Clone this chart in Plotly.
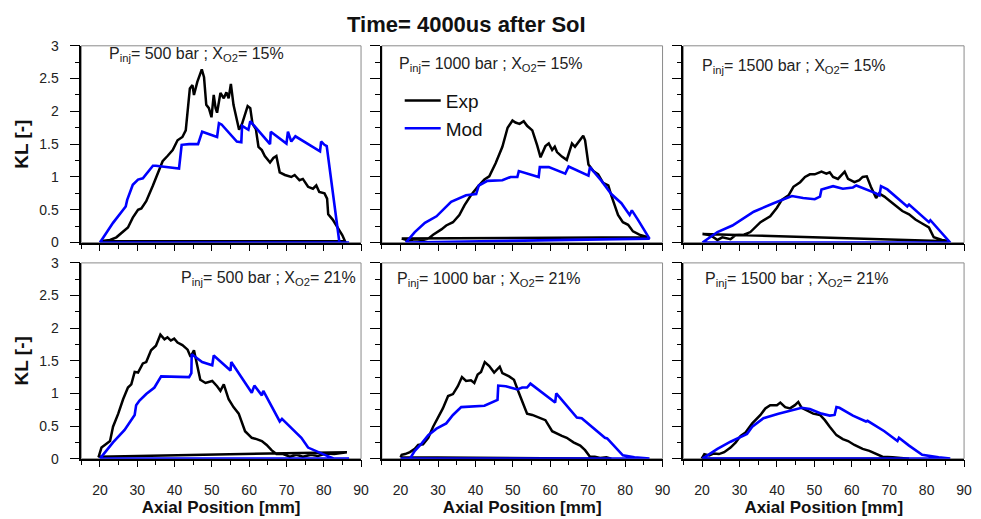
import plotly.graph_objects as go

# ---------------- data ----------------
# Panel A: Pinj=500 bar, XO2=15%
a_exp_x = [20, 22.7, 24.4, 26.2, 27.5, 28.8, 30.2, 31.1, 32.4, 34.2, 35.5, 36.8, 38.1, 39.5, 40.8, 42.1, 43.0, 43.5, 44.1, 44.8, 45.2, 46.1, 47.3, 47.9, 48.5, 49.2, 49.9, 50.5, 51.0, 51.4, 52.3, 53.2, 53.9, 54.5, 55.1, 55.8, 56.7, 57.3, 58.1, 58.9, 59.6, 60.3, 60.9, 61.8, 62.5, 63.4, 64.2, 65.6, 66.5, 67.3, 68.2, 69.6, 71.3, 72.2, 73.5, 74.4, 75.8, 77.1, 78.0, 78.8, 80.2, 80.9, 81.2, 82.4, 83.7, 85.0, 85.7, 20]
a_exp_y = [0.02, 0.04, 0.08, 0.16, 0.23, 0.38, 0.50, 0.52, 0.63, 0.87, 1.07, 1.24, 1.32, 1.41, 1.56, 1.61, 1.71, 2.0, 2.35, 2.40, 2.25, 2.45, 2.64, 2.52, 2.10, 2.05, 1.91, 2.25, 2.05, 1.98, 2.28, 2.20, 2.29, 2.20, 2.42, 2.10, 1.86, 1.72, 1.81, 1.96, 2.08, 2.05, 1.81, 1.73, 1.46, 1.41, 1.32, 1.22, 1.29, 1.32, 1.07, 1.03, 1.0, 1.03, 0.95, 0.97, 0.85, 0.82, 0.87, 0.77, 0.75, 0.67, 0.43, 0.35, 0.23, 0.11, 0.02, 0.02]
a_mod_x = [20, 23.5, 26.9, 27.3, 28.8, 30.2, 31.5, 34.2, 35.0, 41.2, 41.9, 43.9, 46.3, 47.4, 51.4, 51.9, 52.6, 56.7, 57.9, 58.1, 59.8, 60.3, 65.6, 65.8, 70.0, 70.4, 71.3, 72.4, 79.0, 79.3, 80.2, 80.8, 84.2, 86.8, 20]
a_mod_y = [0, 0.30, 0.55, 0.65, 0.88, 0.96, 0.98, 1.17, 1.17, 1.13, 1.49, 1.50, 1.50, 1.69, 1.61, 1.82, 1.80, 1.54, 1.53, 1.78, 1.72, 1.85, 1.50, 1.69, 1.51, 1.69, 1.54, 1.62, 1.39, 1.54, 1.49, 1.47, 0.0, 0, 0]

# Panel B: Pinj=1000 bar, XO2=15%
b_exp_x = [20.3, 21.2, 22.1, 23.8, 26.0, 27.4, 28.7, 30.9, 32.2, 34.0, 35.7, 37.1, 38.8, 40.6, 42.4, 43.7, 45.4, 47.2, 48.6, 49.9, 50.7, 51.8, 52.9, 53.8, 55.2, 56.5, 57.4, 58.7, 59.6, 60.5, 61.2, 61.8, 63.1, 64.4, 65.8, 66.6, 68.0, 68.8, 69.3, 70.2, 71.5, 72.8, 74.1, 75.5, 76.3, 77.2, 78.1, 79.4, 80.8, 82.1, 83.8, 86.1, 20.3]
b_exp_y = [0.06, 0.05, 0.03, 0.05, 0.04, 0.06, 0.12, 0.20, 0.26, 0.31, 0.42, 0.57, 0.72, 0.85, 0.96, 1.01, 1.21, 1.46, 1.75, 1.86, 1.83, 1.81, 1.85, 1.78, 1.71, 1.48, 1.30, 1.47, 1.51, 1.41, 1.46, 1.38, 1.31, 1.26, 1.51, 1.46, 1.58, 1.63, 1.56, 1.19, 1.09, 1.04, 0.91, 0.87, 0.72, 0.56, 0.42, 0.31, 0.27, 0.17, 0.12, 0.08, 0.06]
b_mod_x = [21.4, 23.8, 26.5, 29.6, 33.5, 37.5, 40.2, 40.9, 43.2, 47.2, 49.4, 51.2, 51.6, 56.9, 57.2, 59.6, 64.0, 64.9, 70.2, 70.6, 71.9, 73.7, 76.3, 79.0, 81.2, 81.8, 83.4, 86.5, 21.4]
b_mod_y = [0, 0.16, 0.30, 0.40, 0.62, 0.72, 0.74, 0.87, 0.94, 0.95, 1.00, 1.00, 1.09, 1.00, 1.15, 1.15, 1.05, 1.16, 1.02, 1.15, 1.06, 0.94, 0.74, 0.60, 0.42, 0.49, 0.35, 0.06, 0]

# Panel C: Pinj=1500 bar, XO2=15%
c_exp_x = [20.1, 21.4, 22.8, 24.1, 25.4, 27.6, 28.9, 31.2, 32.9, 35.6, 38.2, 40.0, 41.3, 43.1, 44.4, 46.2, 47.5, 48.8, 50.1, 51.9, 53.2, 54.1, 55.0, 56.3, 58.1, 59.0, 60.7, 62.0, 62.9, 64.0, 65.1, 66.5, 67.3, 68.7, 70.0, 71.8, 73.5, 75.3, 77.0, 78.8, 80.6, 81.9, 84.1, 85.9, 20.1]
c_exp_y = [0.13, 0.12, 0.09, 0.04, 0.08, 0.05, 0.11, 0.12, 0.16, 0.31, 0.40, 0.53, 0.65, 0.72, 0.85, 0.92, 1.00, 1.04, 1.04, 1.08, 1.05, 1.07, 1.00, 0.97, 1.08, 0.97, 0.92, 0.95, 1.00, 1.01, 0.85, 0.68, 0.75, 0.70, 0.64, 0.55, 0.48, 0.43, 0.35, 0.29, 0.23, 0.08, 0.04, 0.02, 0.13]
c_mod_x = [20.1, 24.1, 28.1, 33.8, 39.1, 44.0, 47.0, 50.1, 51.5, 51.9, 55.0, 57.6, 60.3, 61.2, 66.5, 67.4, 67.8, 69.5, 74.8, 75.3, 80.6, 81.0, 86.3, 20.1]
c_mod_y = [0, 0.16, 0.26, 0.47, 0.60, 0.71, 0.68, 0.66, 0.70, 0.81, 0.86, 0.82, 0.84, 0.87, 0.75, 0.72, 0.86, 0.81, 0.55, 0.58, 0.31, 0.34, 0, 0]

# Panel D: Pinj=500 bar, XO2=21%
d_exp_x = [19.6, 20.4, 21.3, 21.9, 22.7, 23.5, 24.9, 26.2, 27.5, 28.4, 29.3, 30.2, 31.5, 32.4, 33.7, 35.0, 36.2, 37.3, 38.1, 39.0, 39.9, 40.8, 42.1, 43.5, 44.3, 45.2, 46.1, 46.9, 48.3, 50.1, 51.4, 52.3, 53.2, 54.5, 55.8, 57.2, 58.9, 60.7, 62.0, 63.4, 64.7, 66.0, 67.3, 69.1, 70.9, 72.7, 74.4, 76.6, 78.4, 80.6, 82.8, 84.6, 86.2, 19.6]
d_exp_y = [0.02, 0.17, 0.21, 0.23, 0.27, 0.49, 0.69, 0.91, 1.09, 1.14, 1.33, 1.32, 1.46, 1.48, 1.66, 1.73, 1.90, 1.83, 1.86, 1.81, 1.84, 1.78, 1.74, 1.67, 1.56, 1.66, 1.41, 1.21, 1.16, 1.19, 1.11, 1.04, 1.14, 0.91, 0.79, 0.69, 0.42, 0.32, 0.30, 0.27, 0.21, 0.13, 0.07, 0.07, 0.03, 0.06, 0.03, 0.06, 0.04, 0.08, 0.07, 0.08, 0.10, 0.03]
d_mod_x = [20, 23.5, 26.6, 28.8, 29.3, 29.7, 30.6, 32.4, 34.6, 36.4, 43.9, 44.5, 44.6, 47.4, 50.1, 50.5, 55.0, 55.2, 56.7, 60.7, 61.4, 63.4, 63.8, 68.2, 68.8, 73.5, 74.0, 75.8, 78.4, 80.6, 82.8, 86.8, 20]
d_mod_y = [0, 0.25, 0.44, 0.62, 0.67, 0.82, 0.89, 0.99, 1.09, 1.26, 1.25, 1.31, 1.60, 1.48, 1.43, 1.58, 1.35, 1.48, 1.35, 1.01, 1.12, 0.97, 1.04, 0.57, 0.61, 0.35, 0.32, 0.17, 0.10, 0.05, 0, 0, 0]

# Panel E: Pinj=1000 bar, XO2=21%
e_exp_x = [20.0, 20.3, 21.2, 22.5, 23.8, 24.7, 26.0, 27.4, 28.7, 30.0, 31.3, 32.7, 34.0, 35.3, 36.4, 37.5, 38.8, 39.7, 40.6, 41.5, 42.5, 43.7, 45.0, 46.5, 47.2, 49.0, 50.3, 51.6, 53.0, 53.8, 55.2, 56.9, 58.7, 60.5, 61.8, 63.1, 64.4, 66.2, 68.0, 69.3, 70.6, 71.9, 73.3, 75.0, 76.3, 20.0]
e_exp_y = [0.02, 0.06, 0.07, 0.10, 0.15, 0.21, 0.22, 0.32, 0.49, 0.62, 0.77, 0.96, 0.99, 1.11, 1.25, 1.19, 1.20, 1.16, 1.29, 1.33, 1.48, 1.42, 1.32, 1.41, 1.31, 1.26, 1.21, 1.01, 0.82, 0.69, 0.67, 0.63, 0.59, 0.42, 0.38, 0.35, 0.32, 0.25, 0.20, 0.13, 0.03, 0.03, 0.01, 0.02, 0, 0.02]
e_mod_x = [20, 22.5, 23.8, 25.6, 27.4, 29.6, 32.2, 34.0, 36.2, 42.4, 45.9, 46.1, 48.1, 51.2, 52.5, 53.8, 54.7, 61.3, 61.6, 67.1, 68.4, 74.6, 75.2, 79.4, 82.5, 86.5, 20]
e_mod_y = [0, 0, 0.12, 0.23, 0.36, 0.46, 0.54, 0.67, 0.79, 0.81, 0.90, 1.12, 1.11, 1.06, 1.09, 1.09, 1.15, 0.86, 1.00, 0.63, 0.62, 0.32, 0.31, 0.05, 0.02, 0, 0]

# Panel F: Pinj=1500 bar, XO2=21%
f_exp_x = [19.9, 20.6, 21.9, 23.2, 24.5, 25.9, 27.6, 29.0, 30.3, 31.6, 33.4, 35.6, 36.9, 38.2, 40.0, 40.9, 42.2, 43.5, 44.8, 45.7, 46.6, 47.9, 49.7, 51.5, 52.8, 54.1, 55.9, 57.6, 59.0, 60.7, 62.9, 64.7, 66.5, 68.2, 70.9, 72.6, 75.3, 19.9]
f_exp_y = [0, 0.07, 0.05, 0.08, 0.07, 0.10, 0.17, 0.25, 0.35, 0.40, 0.54, 0.67, 0.77, 0.82, 0.82, 0.86, 0.79, 0.77, 0.82, 0.87, 0.78, 0.74, 0.69, 0.67, 0.59, 0.49, 0.36, 0.30, 0.27, 0.21, 0.15, 0.12, 0.07, 0.03, 0.02, 0.01, 0, 0]
f_mod_x = [20.1, 24.1, 27.6, 32.0, 33.4, 36.4, 40.4, 43.9, 46.6, 48.8, 51.9, 54.1, 55.4, 55.9, 56.7, 60.3, 63.8, 64.2, 68.7, 72.2, 72.6, 75.3, 78.8, 83.2, 86.3, 20.1]
f_mod_y = [0, 0.15, 0.26, 0.38, 0.49, 0.62, 0.69, 0.74, 0.78, 0.76, 0.69, 0.66, 0.67, 0.79, 0.78, 0.66, 0.57, 0.58, 0.42, 0.27, 0.32, 0.20, 0.06, 0.02, 0, 0]

panel_labels = [
    "P<sub>inj</sub>= 500 bar ; X<sub>O2</sub>= 15%",
    "P<sub>inj</sub>= 1000 bar ; X<sub>O2</sub>= 15%",
    "P<sub>inj</sub>= 1500 bar ; X<sub>O2</sub>= 15%",
    "P<sub>inj</sub>= 500 bar ; X<sub>O2</sub>= 21%",
    "P<sub>inj</sub>= 1000 bar ; X<sub>O2</sub>= 21%",
    "P<sub>inj</sub>= 1500 bar ; X<sub>O2</sub>= 21%",
]
series_names = ["Exp", "Mod"]
title_text = "Time= 4000us after SoI"
x_title = "Axial Position [mm]"
y_title = "KL [-]"
x_tickvals = [20, 30, 40, 50, 60, 70, 80, 90]
y_tickvals = [0, 0.5, 1, 1.5, 2, 2.5, 3]

# ---------------- layout ----------------
W, H = 981, 519
FONT = "Liberation Sans, Arial, sans-serif"
x_dom_px = [(82, 364), (385, 668), (689, 972)]
y_dom_px = [(39, 242), (263, 465)]

panels = [
    (a_exp_x, a_exp_y, a_mod_x, a_mod_y),
    (b_exp_x, b_exp_y, b_mod_x, b_mod_y),
    (c_exp_x, c_exp_y, c_mod_x, c_mod_y),
    (d_exp_x, d_exp_y, d_mod_x, d_mod_y),
    (e_exp_x, e_exp_y, e_mod_x, e_mod_y),
    (f_exp_x, f_exp_y, f_mod_x, f_mod_y),
]
# annotation anchor (px) and alignment
label_pos = [(108, 48, "left"), (400, 58, "left"), (706, 60, "left"),
             (361, 279, "right"), (398, 280, "left"), (709, 280, "left")]

fig = go.Figure()
layout = dict(
    width=W, height=H, margin=dict(l=0, r=0, t=0, b=0),
    paper_bgcolor="white", plot_bgcolor="white",
    font=dict(family=FONT, color="#222", size=12),
    showlegend=True,
    legend=dict(x=403 / W, y=1 - 76 / H, xanchor="left", yanchor="top",
                font=dict(size=19, color="#111", family=FONT),
                bgcolor="rgba(0,0,0,0)", tracegroupgap=0, itemwidth=36),
    annotations=[], shapes=[],
)

for i, (ex, ey, mx, my) in enumerate(panels):
    r, c = divmod(i, 3)
    k = i + 1
    xa = "x" if k == 1 else f"x{k}"
    ya = "y" if k == 1 else f"y{k}"
    fig.add_trace(go.Scatter(x=ex, y=ey, mode="lines", name=series_names[0],
                             line=dict(color="black", width=2.5),
                             xaxis=xa, yaxis=ya, showlegend=(k == 2),
                             legendrank=1))
    fig.add_trace(go.Scatter(x=mx, y=my, mode="lines", name=series_names[1],
                             line=dict(color="#0000FF", width=2.6),
                             xaxis=xa, yaxis=ya, showlegend=(k == 2),
                             legendrank=2))
    x0, x1 = x_dom_px[c]
    y0, y1 = y_dom_px[r]
    xkey = "xaxis" if k == 1 else f"xaxis{k}"
    ykey = "yaxis" if k == 1 else f"yaxis{k}"
    layout[xkey] = dict(
        domain=[x0 / W, x1 / W], anchor=ya, range=[15, 90],
        tickmode="array", tickvals=x_tickvals,
        showticklabels=(r == 1), ticks="outside", ticklen=7, tickwidth=1.2,
        tickcolor="black", showline=True, linecolor="black", linewidth=1.6,
        showgrid=False, zeroline=False, ticklabelstandoff=11,
        tickfont=dict(size=14, color="#222"),
        minor=dict(tickvals=[15, 25, 35, 45, 55, 65, 75, 85], ticks="outside",
                   ticklen=5, tickwidth=1.2, tickcolor="black", showgrid=False),
        title=dict(text=f"<b>{x_title}</b>" if r == 1 else "",
                   font=dict(size=17, color="#111"), standoff=3),
    )
    layout[ykey] = dict(
        domain=[1 - y1 / H, 1 - y0 / H], anchor=xa, range=[0, 3],
        tickmode="array", tickvals=y_tickvals,
        showticklabels=(c == 0), ticks="outside", ticklen=10, tickwidth=1.2,
        tickcolor="black", showline=True, linecolor="black", linewidth=1.6,
        showgrid=False, zeroline=False, ticklabelstandoff=8,
        tickfont=dict(size=14, color="#222"),
        minor=dict(tickvals=[0.25, 0.75, 1.25, 1.75, 2.25, 2.75], ticks="outside",
                   ticklen=5, tickwidth=1.2, tickcolor="black", showgrid=False),
        title=dict(text=f"<b>{y_title}</b>" if c == 0 else "",
                   font=dict(size=19, color="#111"), standoff=6),
    )
    # gray frame (top/right border)
    layout["shapes"].append(dict(type="rect", xref=f"{xa} domain", yref=f"{ya} domain",
                                 x0=0, x1=1, y0=0, y1=1, layer="below",
                                 line=dict(color="#8a8a8a", width=1)))
    lx, ly, al = label_pos[i]
    layout["annotations"].append(dict(
        text=panel_labels[i], xref="paper", yref="paper", x=lx / W, y=1 - ly / H,
        xanchor=al, yanchor="middle", showarrow=False, align=al,
        font=dict(size=16, color="#222", family=FONT)))

layout["annotations"].append(dict(
    text=f"<b>{title_text}</b>", xref="paper", yref="paper", x=470 / W, y=1 - 17 / H,
    xanchor="center", yanchor="middle", showarrow=False,
    font=dict(size=22, color="#111", family=FONT)))

fig.update_layout(**layout)
fig.write_html("out.html")
